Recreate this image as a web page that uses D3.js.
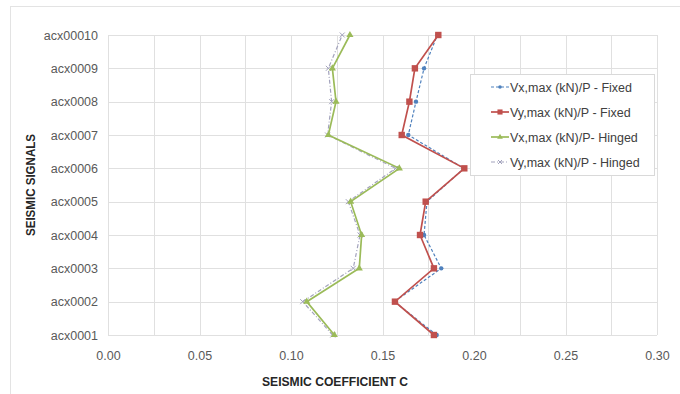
<!DOCTYPE html>
<html><head><meta charset="utf-8">
<script src="https://cdn.jsdelivr.net/npm/d3@7"></script>
<style>body{margin:0;background:#fff}svg{display:block;font-family:"Liberation Sans",Arial,sans-serif}</style>
</head><body><svg id="c" width="680" height="394"></svg>
<script>
const signals = ["acx0001","acx0002","acx0003","acx0004","acx0005","acx0006","acx0007","acx0008","acx0009","acx00010"];
const vxFixed  = [0.1796,0.1565,0.1821,0.1727,0.1743,0.1945,0.1641,0.1683,0.1727,0.1800];
const vyFixed  = [0.1781,0.1568,0.1781,0.1705,0.1736,0.1947,0.1605,0.1647,0.1677,0.1805];
const vxHinged = [0.1237,0.1086,0.1373,0.1386,0.1326,0.1592,0.1204,0.1246,0.1226,0.1322];
const vyHinged = [0.1228,0.1064,0.1340,0.1377,0.1313,0.1572,0.1200,0.1222,0.1204,0.1280];
const seriesNames = ["Vx,max (kN)/P - Fixed","Vy,max (kN)/P - Fixed","Vx,max (kN)/P- Hinged","Vy,max (kN)/P - Hinged"];
const xTicks = [0,0.05,0.10,0.15,0.20,0.25,0.30];
const xGrid = d3.range(0,0.3001,0.025);

const series = [
  {name:seriesNames[0], vals:vxFixed, color:"#4f81bd", width:1.2, dash:"3,2", marker:"circle"},
  {name:seriesNames[1], vals:vyFixed, color:"#c0504d", width:1.7, dash:null, marker:"square"},
  {name:seriesNames[2], vals:vxHinged, color:"#9bbb59", width:1.7, dash:null, marker:"triangle"},
  {name:seriesNames[3], vals:vyHinged, color:"#a3a3bd", width:1.2, dash:"4,2,1,2", marker:"cross"}
];

const svg = d3.select("#c");
svg.append("rect").attr("x",10.5).attr("y",6.5).attr("width",680).attr("height",400)
  .attr("fill","none").attr("stroke","#e3e3e3");

const L=108, R=657, T=35, B=335;
const x = d3.scaleLinear().domain([0,0.3]).range([L,R]);
const y = d3.scalePoint().domain(signals).range([B,T]);

const g = svg.append("g");
g.selectAll(".vg").data(xGrid).join("line")
  .attr("x1",d=>Math.round(x(d))+0.5).attr("x2",d=>Math.round(x(d))+0.5)
  .attr("y1",T).attr("y2",B).attr("stroke","#e0e0e0");
g.selectAll(".hg").data(signals).join("line")
  .attr("x1",L).attr("x2",R)
  .attr("y1",d=>Math.round(y(d))+0.5).attr("y2",d=>Math.round(y(d))+0.5).attr("stroke","#e0e0e0");

const xa = svg.append("g").attr("transform",`translate(0,${B})`)
  .call(d3.axisBottom(x).tickValues(xTicks).tickFormat(d3.format(".2f")).tickSize(0).tickPadding(16));
xa.select(".domain").remove();
xa.selectAll("text").attr("fill","#595959").style("font-size","12.5px").style("font-family","Liberation Sans, Arial");

const ya = svg.append("g").attr("transform",`translate(${L},0)`)
  .call(d3.axisLeft(y).tickSize(0).tickPadding(10));
ya.select(".domain").remove();
ya.selectAll("text").attr("fill","#595959").style("font-size","12.5px").style("font-family","Liberation Sans, Arial");

svg.append("text").attr("x",335).attr("y",386).attr("text-anchor","middle")
  .attr("font-weight","bold").attr("font-size","12px").attr("fill","#262626")
  .attr("textLength",146).attr("lengthAdjust","spacingAndGlyphs").text("SEISMIC COEFFICIENT C");
svg.append("text").attr("transform","translate(35,185) rotate(-90)").attr("text-anchor","middle")
  .attr("font-weight","bold").attr("font-size","12px").attr("fill","#262626")
  .attr("textLength",102).attr("lengthAdjust","spacingAndGlyphs").text("SEISMIC SIGNALS");

function drawMarker(sel, m, color, s){
  if(m==="circle") sel.append("circle").attr("r",2.2*s).attr("fill",color);
  else if(m==="square") sel.append("rect").attr("x",-3.2*s).attr("y",-3.2*s).attr("width",6.4*s).attr("height",6.4*s).attr("fill",color);
  else if(m==="triangle") sel.append("path").attr("d",d3.symbol(d3.symbolTriangle,22*s*s)()).attr("fill",color);
  else if(m==="cross") sel.append("path").attr("d",`M${-2.5*s},${-2.5*s}L${2.5*s},${2.5*s}M${-2.5*s},${2.5*s}L${2.5*s},${-2.5*s}`).attr("stroke",color).attr("stroke-width",1);
}

const line = d3.line().x(d=>x(d.v)).y(d=>y(d.s));
const order = [3,2,0,1];
order.forEach(i=>{
  const s = series[i];
  const pts = s.vals.map((v,k)=>({v, s:signals[k]}));
  g.append("path").datum(pts).attr("d",line).attr("fill","none")
    .attr("stroke",s.color).attr("stroke-width",s.width).attr("stroke-dasharray",s.dash);
  pts.forEach(p=>{
    const mg = g.append("g").attr("transform",`translate(${x(p.v)},${y(p.s)})`);
    drawMarker(mg, s.marker, s.color, 1);
  });
});

const lg = svg.append("g");
lg.append("rect").attr("x",470.5).attr("y",74.5).attr("width",184).attr("height",101)
  .attr("fill","#fff").attr("stroke","#d9d9d9");
series.forEach((s,i)=>{
  const yy = 87 + i*25;
  lg.append("line").attr("x1",491).attr("x2",509).attr("y1",yy).attr("y2",yy)
    .attr("stroke",s.color).attr("stroke-width",s.width).attr("stroke-dasharray",s.dash);
  const mg = lg.append("g").attr("transform",`translate(500,${yy})`);
  drawMarker(mg, s.marker, s.color, 0.8);
  lg.append("text").attr("x",510).attr("y",yy+4.5).attr("font-size","12.5px").attr("fill","#404040").text(s.name);
});
</script></body></html>
